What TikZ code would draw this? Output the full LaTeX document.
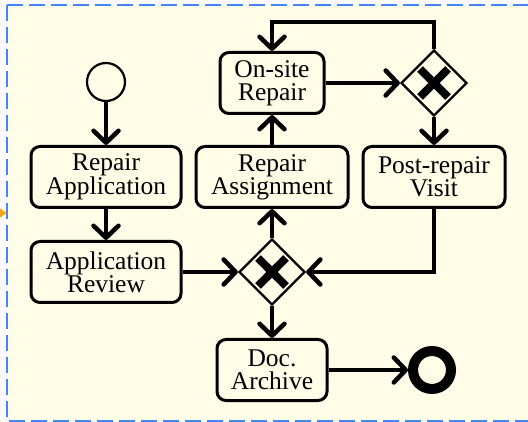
\documentclass[tikz,border=0pt]{standalone}
\usepackage{fontspec}
\setmainfont{Liberation Serif}
\usetikzlibrary{arrows.meta,shapes.geometric}

\definecolor{pagebg}{RGB}{252,249,255}
\definecolor{poolfill}{RGB}{255,252,232}
\definecolor{poolline}{RGB}{66,133,244}
\definecolor{inflow}{RGB}{245,166,35}

\tikzset{
  task/.style={draw, line width=3pt, rounded corners=9pt, align=center,
    inner sep=0pt, minimum height=61pt,
    font=\fontsize{25.5}{23}\selectfont},
  gateway/.style={draw, diamond, line width=2.2pt, inner sep=0pt, aspect=1,
    minimum width=66pt, minimum height=66pt},
  xmark/.style={line width=8pt},
  flow/.style={line width=3.5pt,
    -{Straight Barb[length=12pt,width=25pt,line width=4.5pt,round]}},
  frame/.style={draw=poolline, line width=2pt, dash pattern=on 16pt off 6pt,
    fill=poolfill}
}

\begin{document}
\begin{tikzpicture}[x=1pt,y=-1pt]
  \useasboundingbox (0,0) rectangle (528,422);
  \fill[pagebg] (0,0) rectangle (528,422);
  \path[frame] (7,5) rectangle (545,421);

  % incoming message marker on the pool edge
  \fill[inflow] (-2,207) -- (7,213) -- (-2,219) -- cycle;

  % events
  \node[circle, draw, line width=2.2pt, minimum size=38pt, inner sep=0pt] (start) at (106,82) {};
  \node[circle, draw, line width=10pt, minimum size=38pt, inner sep=0pt] (end) at (432,370) {};

  % tasks
  \node[task, minimum width=150pt] (ra)   at (106,177) {Repair\\Application};
  \node[task, minimum width=150pt] (ar)   at (106,272) {Application\\Review};
  \node[task, minimum width=104pt] (osr)  at (272,83)  {On-site\\Repair};
  \node[task, minimum width=152pt] (asg)  at (272,177) {Repair\\Assignment};
  \node[task, minimum width=142pt] (pv)   at (434,177) {Post-repair\\Visit};
  \node[task, minimum width=110pt] (da)   at (272,370) {Doc.\\Archive};

  % exclusive gateways
  \node[gateway] (g1) at (272,272) {};
  \node[gateway] (g2) at (434,83) {};
  \foreach \g in {g1,g2} {
    \draw[xmark] (\g.center) +(-14,-14) -- +(14,14);
    \draw[xmark] (\g.center) +(-14,14) -- +(14,-14);
  }

  % sequence flows
  \coordinate (loop) at (434,22);
  \draw[flow] (start) -- (ra);
  \draw[flow] (ra) -- (ar);
  \draw[flow] (ar.east) -- (g1.west);
  \draw[flow] (pv.south) |- (g1.east);
  \draw[flow] (g1.north) -- (asg.south);
  \draw[flow] (asg) -- (osr);
  \draw[flow] (osr.east) -- (g2.west);
  \draw[flow] (g2.north) -- (loop) -| (osr.north);
  \draw[flow] (g2.south) -- (pv.north);
  \draw[flow] (g1.south) -- (da.north);
  \draw[flow] (da.east) -- (end.west);
\end{tikzpicture}
\end{document}
